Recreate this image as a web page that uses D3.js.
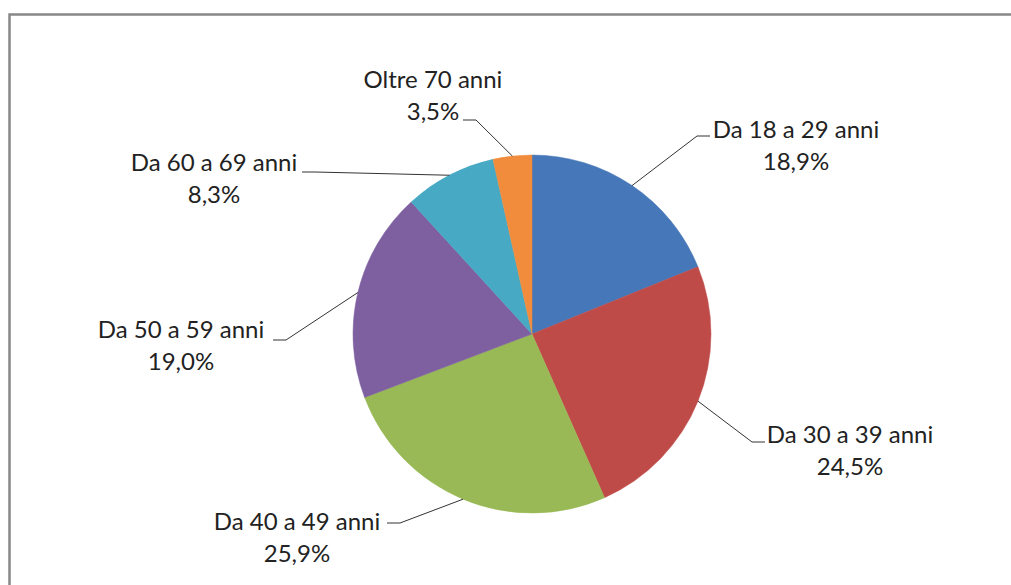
<!DOCTYPE html>
<meta charset="utf-8">
<style>
    body { margin: 0; background: #fff; }
    .label {
        font: 24px Lato, "Open Sans", sans-serif;
        fill: #222;
        text-anchor: middle;
    }
    .leader {
        fill: none;
        stroke: #333;
        stroke-width: 1;
    }
</style>
<body>
    <svg width="1011" height="585"></svg>
</body>
<script src="https://d3js.org/d3.v7.min.js"></script>
<script>
    // age groups, clockwise from 12 o'clock
    var categories = ["Da 18 a 29 anni", "Da 30 a 39 anni", "Da 40 a 49 anni", "Da 50 a 59 anni", "Da 60 a 69 anni", "Oltre 70 anni"];
    var values = [18.9, 24.5, 25.9, 19.0, 8.3, 3.5];
    var colors = ["#4677B8", "#BF4B48", "#98B955", "#7E60A0", "#47A9C4", "#F08C3C"];

    // where Excel put each label: text centre x, first baseline y, end of the leader near the text
    var labelPos = [
        { tx: 796, ty: 138, lx: 710, ly: 136 },
        { tx: 850, ty: 443, lx: 765, ly: 442 },
        { tx: 297, ty: 530, lx: 387, ly: 523 },
        { tx: 181, ty: 338, lx: 273, ly: 340 },
        { tx: 214, ty: 171, lx: 302, ly: 172 },
        { tx: 433, ty: 88, lx: 463, ly: 120 }
    ];

    var svg = d3.select("svg"),
        cx = 532,
        cy = 334,
        radius = 179;

    // chart frame (runs off the right and bottom edge like the screenshot)
    svg.append("rect")
        .attr("x", 9.5)
        .attr("y", 14.5)
        .attr("width", 1020)
        .attr("height", 600)
        .attr("fill", "#fff")
        .attr("stroke", "#888")
        .attr("stroke-width", 2.5);

    var data = categories.map(function (c, i) {
        return { name: c, value: values[i], color: colors[i], pos: labelPos[i] };
    });

    var pie = d3.pie()
        .sort(null)
        .value(function (d) { return d.value; });

    var arc = d3.arc().innerRadius(0).outerRadius(radius);

    var g = svg.append("g").attr("transform", "translate(" + cx + "," + cy + ")");
    var arcs = pie(data);

    g.selectAll("path")
        .data(arcs)
        .enter().append("path")
        .attr("d", arc)
        .attr("fill", function (d) { return d.data.color; })
        .attr("stroke", function (d) { return d.data.color; })
        .attr("stroke-width", 0.5);

    var fmt = function (v) { return v.toFixed(1).replace(".", ",") + "%"; };

    // leader lines: from the slice edge at its mid angle to a short horizontal tail by the text
    svg.selectAll(".leader")
        .data(arcs)
        .enter().append("polyline")
        .attr("class", "leader")
        .attr("points", function (d) {
            var a = (d.startAngle + d.endAngle) / 2;
            var ex = cx + radius * Math.sin(a),
                ey = cy - radius * Math.cos(a);
            var p = d.data.pos;
            var dir = p.lx < cx ? 1 : -1;
            return [[p.lx, p.ly], [p.lx + dir * 13, p.ly], [ex, ey]].map(function (q) { return q.join(","); }).join(" ");
        });

    var labels = svg.selectAll(".label")
        .data(arcs)
        .enter().append("text")
        .attr("class", "label")
        .attr("x", function (d) { return d.data.pos.tx; })
        .attr("y", function (d) { return d.data.pos.ty; });

    labels.append("tspan")
        .attr("x", function (d) { return d.data.pos.tx; })
        .text(function (d) { return d.data.name; });

    labels.append("tspan")
        .attr("x", function (d) { return d.data.pos.tx; })
        .attr("dy", 32)
        .text(function (d) { return fmt(d.data.value); });
</script>
